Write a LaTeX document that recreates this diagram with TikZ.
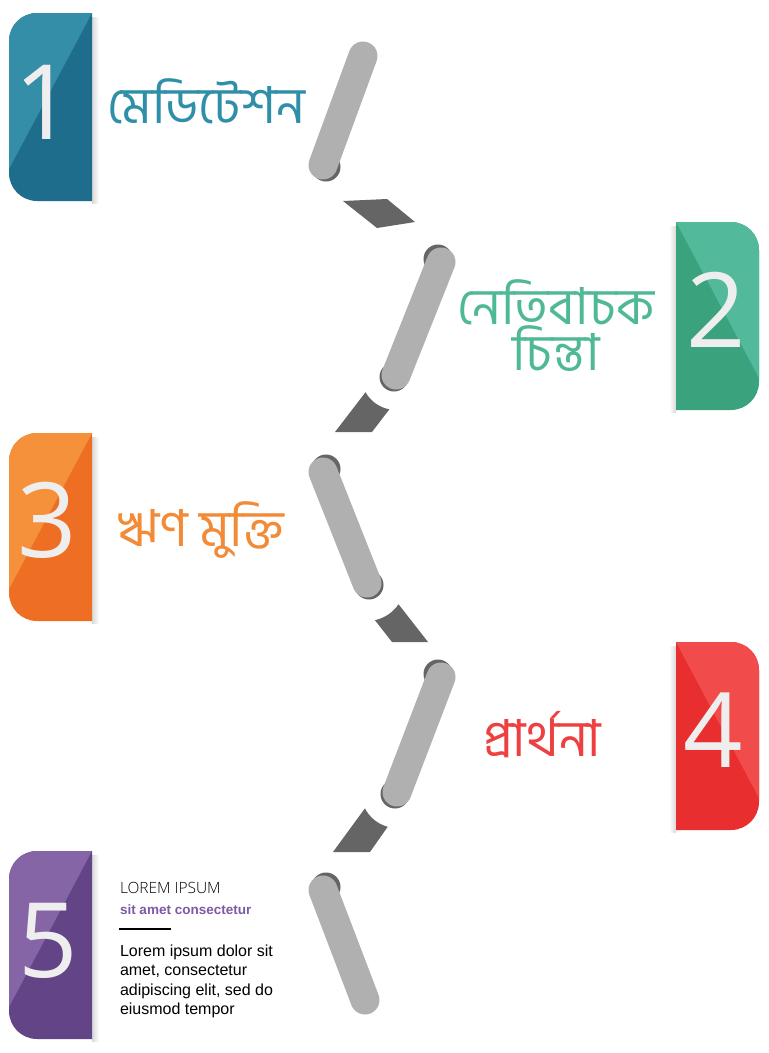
\documentclass[tikz,border=0pt]{standalone}
\usepackage{fontspec}
\usetikzlibrary{calc}
\newfontfamily\bnfont[Script=Bengali]{Hind Siliguri}
\newfontfamily\numfont{Open Sans}
\IfFontExistsTF{Open Sans Light}
  {\newfontfamily\headfont{Open Sans Light}}
  {\newfontfamily\headfont{Open Sans}}
\newfontfamily\bodyfont{Liberation Sans}
\definecolor{tealdark}{RGB}{31,109,140}
\definecolor{teallight}{RGB}{52,142,168}
\definecolor{tealtext}{RGB}{47,143,169}
\definecolor{greendark}{RGB}{58,162,125}
\definecolor{greenlight}{RGB}{82,185,154}
\definecolor{greentext}{RGB}{79,184,150}
\definecolor{orangedark}{RGB}{238,110,35}
\definecolor{orangelight}{RGB}{244,145,58}
\definecolor{orangetext}{RGB}{242,138,54}
\definecolor{reddark}{RGB}{232,46,47}
\definecolor{redlight}{RGB}{242,75,75}
\definecolor{redtext}{RGB}{238,64,64}
\definecolor{purpledark}{RGB}{99,68,135}
\definecolor{purplelight}{RGB}{133,101,165}
\definecolor{purpletext}{RGB}{125,90,166}
\definecolor{pillgray}{RGB}{176,176,176}
\definecolor{capgray}{RGB}{101,101,101}
\definecolor{numwhite}{RGB}{238,238,238}

% number tab, straight side on the right
\newcommand{\lefttab}[3]{%
  \shade[left color=black!15, right color=white] (92,{#1+4}) rectangle (99,{#1+190});
  \fill[#2, rounded corners=28bp] (92,#1) -- (9,#1) -- (9,{#1+188}) -- (92,{#1+188});
  \begin{scope}
    \clip[rounded corners=28bp] (92,#1) -- (9,#1) -- (9,{#1+188}) -- (92,{#1+188});
    \fill[#3] (92,#1) -- (9,#1) -- (9,{#1+156}) -- cycle;
  \end{scope}}
% number tab, straight side on the left
\newcommand{\righttab}[3]{%
  \shade[left color=white, right color=black!15] (669,{#1+4}) rectangle (676,{#1+190});
  \fill[#2, rounded corners=28bp] (676,#1) -- (759,#1) -- (759,{#1+188}) -- (676,{#1+188});
  \begin{scope}
    \clip[rounded corners=28bp] (676,#1) -- (759,#1) -- (759,{#1+188}) -- (676,{#1+188});
    \fill[#3] (676,#1) -- (759,#1) -- (759,{#1+156}) -- cycle;
  \end{scope}}

\begin{document}
\begin{tikzpicture}[
    x=1bp, y=-1bp,
    every node/.style={inner sep=0pt, outer sep=0pt},
    pill/.style={draw=pillgray, line width=29bp, line cap=round},
    pillcap/.style={fill=capgray},
    link/.style={fill=capgray},
    numlabel/.style={font=\numfont\fontsize{104bp}{104bp}\selectfont, text=numwhite, anchor=base},
    steptitle/.style={font=\bnfont\fontsize{51bp}{46bp}\selectfont, anchor=base west}
]
\useasboundingbox[fill=white] (0,0) rectangle (769,1053);

% Tabs
\lefttab{13}{tealdark}{teallight}
\righttab{222}{greendark}{greenlight}
\lefttab{433}{orangedark}{orangelight}
\righttab{642}{reddark}{redlight}
\lefttab{851}{purpledark}{purplelight}

% Numbers
\node[numlabel] (num1) at (44,139) {1};
\node[numlabel] (num2) at (716,347) {2};
\node[numlabel] (num3) at (47,557) {3};
\node[numlabel] (num4) at (713,767) {4};
\node[numlabel] (num5) at (48,977) {5};

% Titles
\node[steptitle, text=tealtext] (title1) at (107,123) {মেডিটেশন};
\node[steptitle, text=greentext, anchor=center, align=center] (title2) at (556,326) {নেতিবাচক\\চিন্তা};
\node[steptitle, text=orangetext] (title3) at (118,546) {ঋণ মুক্তি};
\node[steptitle, text=redtext] (title4) at (483,756) {প্রার্থনা};

% Pill ends
\coordinate (p1t) at (363,56);  \coordinate (p1b) at (323,165);
\coordinate (p2t) at (441,262); \coordinate (p2b) at (396,375);
\coordinate (p3t) at (323,472); \coordinate (p3b) at (367,583);
\coordinate (p4t) at (441,677); \coordinate (p4b) at (397,792);
\coordinate (p5t) at (323,890); \coordinate (p5b) at (365,1000);

% Dark caps
\fill[pillcap] ($(p1b)+(3,2)$) circle[radius=14.5];
\fill[pillcap] ($(p2t)+(-3,-3)$) circle[radius=14.5];
\fill[pillcap] ($(p2b)+(-2,2)$) circle[radius=14.5];
\fill[pillcap] ($(p3t)+(3,-3)$) circle[radius=14.5];
\fill[pillcap] ($(p3b)+(2,2)$) circle[radius=14.5];
\fill[pillcap] ($(p4t)+(-3,-3)$) circle[radius=14.5];
\fill[pillcap] ($(p4b)+(-2,2)$) circle[radius=14.5];
\fill[pillcap] ($(p5t)+(3,-3)$) circle[radius=14.5];

% Pills
\draw[pill] (p1t) -- (p1b);
\draw[pill] (p2t) -- (p2b);
\draw[pill] (p3t) -- (p3b);
\draw[pill] (p4t) -- (p4b);
\draw[pill] (p5t) -- (p5b);

% Links between pills
\fill[link] (343,201) -- (387,199) -- (415,222) -- (377,228) -- cycle;
\fill[link] ($(p2b)+(150.5:35)$) arc[start angle=150.5, end angle=101, radius=35] -- (372,432) -- (335,432) -- cycle;
\fill[link] ($(p3b)+(78:38)$) arc[start angle=78, end angle=34, radius=38] -- (428,642) -- (392,642) -- cycle;
\fill[link] ($(p4b)+(153:36)$) arc[start angle=153, end angle=105, radius=36] -- (370,852) -- (333,852) -- cycle;

% Step 5 text block
\node[font=\headfont\fontsize{15.5bp}{18bp}\selectfont, anchor=base west] (lorem) at (120,893) {LOREM IPSUM};
\node[font=\bodyfont\bfseries\fontsize{13.5bp}{16bp}\selectfont, text=purpletext, anchor=base west] (subline) at (120,914) {sit amet consectetur};
\coordinate (rulel) at (119,929);
\coordinate (ruler) at (171,929);
\draw[line width=1.6bp] (rulel) -- (ruler);
\node[font=\bodyfont\fontsize{16bp}{19.3bp}\selectfont, anchor=north west, align=left] (bodytext) at (120,945) {Lorem ipsum dolor sit\\amet, consectetur\\adipiscing elit, sed do\\eiusmod tempor};

\end{tikzpicture}
\end{document}
